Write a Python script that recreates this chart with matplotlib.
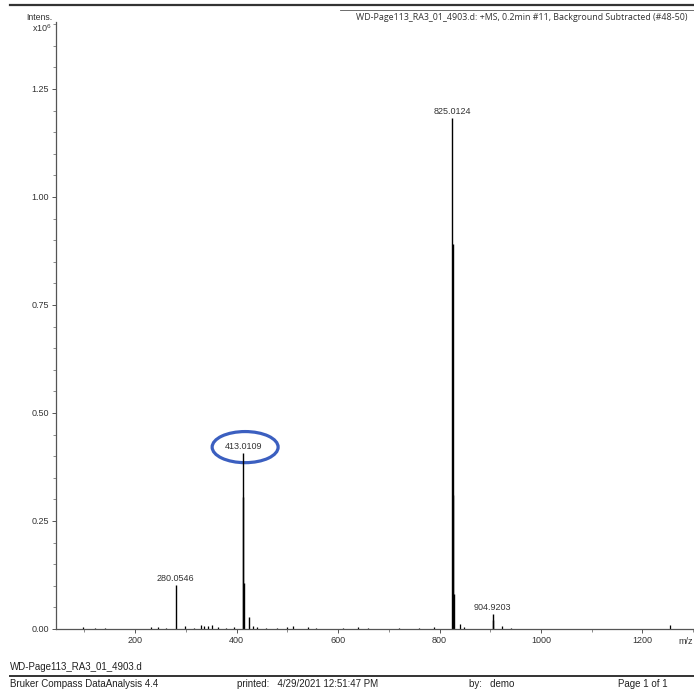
import matplotlib
matplotlib.use("Agg")
import matplotlib.pyplot as plt
from matplotlib.lines import Line2D
from matplotlib.patches import Ellipse
from matplotlib.ticker import MultipleLocator, FormatStrFormatter

plt.rcParams["font.family"] = ["Liberation Sans", "DejaVu Sans"]
plt.rcParams["mathtext.default"] = "regular"

# labelled peaks: m/z and intensity (x10^6)
label_mz = [280.0546, 413.0109, 825.0124, 904.9203]
label_int = [0.102, 0.407, 1.183, 0.035]

# isotope / satellite peaks next to the labelled ones
iso_mz = [413.51, 414.01, 424.5, 826.015, 827.01, 828.0, 905.9]
iso_int = [0.305, 0.106, 0.027, 0.890, 0.310, 0.080, 0.020]

# baseline noise
noise_mz = [98, 122, 140, 232, 245, 262, 298, 316, 330, 336, 343, 352, 364,
            380, 395, 432, 440, 458, 480, 500, 512, 540, 556, 610, 640, 660,
            720, 760, 790, 840, 848, 923, 940, 1254]
noise_int = [0.004, 0.003, 0.003, 0.004, 0.005, 0.003, 0.006, 0.003, 0.009,
             0.007, 0.006, 0.010, 0.004, 0.003, 0.004, 0.008, 0.005, 0.003,
             0.003, 0.004, 0.006, 0.004, 0.003, 0.003, 0.004, 0.003, 0.003,
             0.003, 0.004, 0.012, 0.005, 0.008, 0.003, 0.009]

header = "WD-Page113_RA3_01_4903.d: +MS, 0.2min #11, Background Subtracted (#48-50)"
data_file = "WD-Page113_RA3_01_4903.d"
footer = ["Bruker Compass DataAnalysis 4.4", "printed:   4/29/2021 12:51:47 PM",
          "by:   demo", "Page 1 of 1"]

W, H = 694, 690


def fx(px):
    return px / W


def fy(py):
    return 1 - py / H


fig = plt.figure(figsize=(W / 100, H / 100), dpi=100)
ax = fig.add_axes([fx(56), fy(629), 1 - fx(56), fy(22) - fy(629)])

ax.vlines(noise_mz, 0, noise_int, color="black", lw=0.9)
ax.vlines(iso_mz, 0, iso_int, color="black", lw=1.0)
ax.vlines(label_mz, 0, label_int, color="black", lw=1.0)

for mz, it in zip(label_mz, label_int):
    ax.annotate(f"{mz:.4f}", (mz, it), xytext=(0, 1.5), textcoords="offset points",
                ha="center", va="bottom", fontsize=6.5, color="#333333")

# highlight ring around the doubly charged ion
ax.add_patch(Ellipse((417, 0.421), 130, 0.072, fill=False, ec="#3b5fc0", lw=2.3,
                     clip_on=False))

ax.set_xlim(44.3, 1301.5)
ax.set_ylim(0, 1.405)
for s in ("top", "right"):
    ax.spines[s].set_visible(False)
for s in ("left", "bottom"):
    ax.spines[s].set_color("#555555")
    ax.spines[s].set_linewidth(0.9)

ax.xaxis.set_major_locator(MultipleLocator(200))
ax.xaxis.set_minor_locator(MultipleLocator(100))
ax.yaxis.set_major_locator(MultipleLocator(0.25))
ax.yaxis.set_minor_locator(MultipleLocator(0.05))
ax.yaxis.set_major_formatter(FormatStrFormatter("%.2f"))
ax.tick_params(which="major", length=3, width=0.7, color="#555555",
               labelsize=6.5, labelcolor="#333333", pad=2)
ax.tick_params(which="minor", length=2, width=0.6, color="#777777")

fig.text(fx(52), fy(18), "Intens.", ha="right", va="center", fontsize=6.3, color="#333333")
fig.text(fx(52), fy(28), r"x10$^6$", ha="right", va="center", fontsize=6.5, color="#333333")
fig.text(fx(678), fy(641), "m/z", ha="left", va="center", fontsize=6.5, color="#333333")

# page header
fig.add_artist(Line2D([fx(10), 1], [fy(5), fy(5)], color="#333333", lw=1.6))
fig.add_artist(Line2D([fx(340), 1], [fy(9.5), fy(9.5)], color="#555555", lw=0.6))
fig.text(fx(356), fy(18), header, ha="left", va="center", fontsize=6.4,
         family=["Open Sans", "DejaVu Sans"], color="#333333")

# page footer
fig.text(fx(10), fy(667), data_file, ha="left", va="center", fontsize=7, color="#222222")
fig.add_artist(Line2D([fx(10), 1], [fy(676), fy(676)], color="#333333", lw=1.4))
for px, txt in zip([10, 237, 469, 618], footer):
    fig.text(fx(px), fy(684), txt, ha="left", va="center", fontsize=7, color="#222222")

fig.savefig("out.png", dpi=100)
